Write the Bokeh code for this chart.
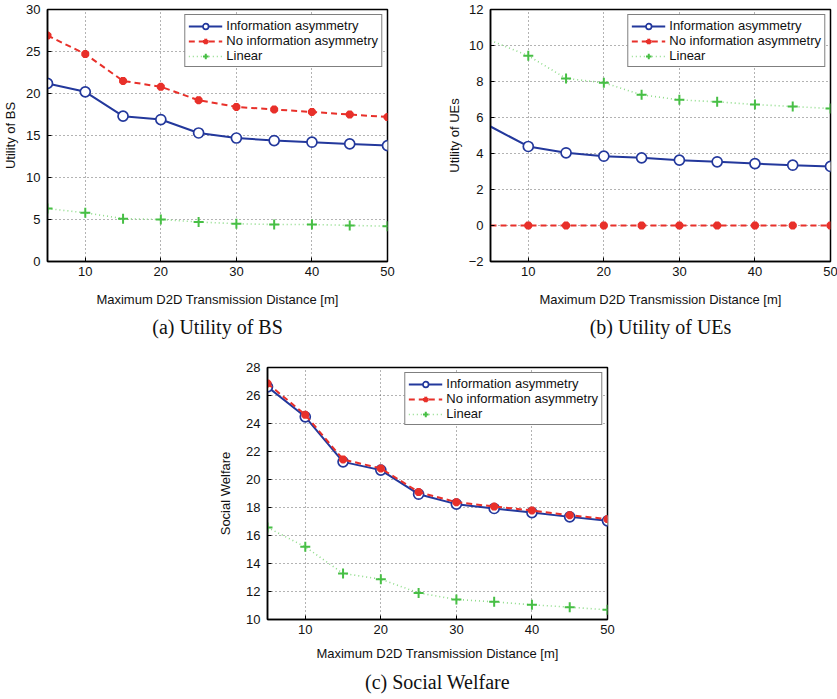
from bokeh.plotting import figure
from bokeh.models import Range1d, Legend, LegendItem, Title, FixedTicker
from bokeh.layouts import row, column
from bokeh.embed import file_html
from bokeh.resources import INLINE

# ---------------- data ----------------
distance = [5, 10, 15, 20, 25, 30, 35, 40, 45, 50]
ue_marker_distance = [10, 15, 20, 25, 30, 35, 40, 45, 50]
x_ticks = [10, 20, 30, 40, 50]

bs_info = [21.2, 20.2, 17.3, 16.9, 15.3, 14.7, 14.4, 14.2, 14.0, 13.8]
bs_noinfo = [26.9, 24.7, 21.5, 20.8, 19.2, 18.4, 18.1, 17.8, 17.5, 17.2]
bs_linear = [6.3, 5.8, 5.1, 5.0, 4.7, 4.5, 4.4, 4.4, 4.3, 4.2]

ue_info = [5.5, 4.39, 4.04, 3.85, 3.76, 3.63, 3.54, 3.44, 3.35, 3.28]
ue_noinfo = [0, 0, 0, 0, 0, 0, 0, 0, 0, 0]
ue_linear = [10.28, 9.43, 8.17, 7.93, 7.26, 6.98, 6.87, 6.72, 6.61, 6.5]

sw_info = [26.62, 24.48, 21.26, 20.67, 18.95, 18.24, 17.93, 17.64, 17.33, 17.05]
sw_noinfo = [26.86, 24.62, 21.43, 20.79, 19.10, 18.38, 18.07, 17.79, 17.45, 17.17]
sw_linear = [16.57, 15.19, 13.29, 12.88, 11.90, 11.43, 11.26, 11.05, 10.88, 10.69]

labels = ["Information asymmetry", "No information asymmetry", "Linear"]
x_label = "Maximum D2D Transmission Distance [m]"

BLUE = "#23389c"
RED = "#e8302a"
GREEN = "#47bf45"
GREEN_LINE = "#8fdc8a"
FONT = "Liberation Sans"


def make_panel(ys, mark_x, mark_start, yrange, yticks, ylabel, caption,
               borders, ylabel_standoff, xlabel_standoff, cap_standoff,
               overrides=None):
    left, right, top, bottom = borders
    p = figure(frame_width=340, frame_height=252, output_backend="svg",
               toolbar_location=None, x_range=Range1d(5, 50),
               y_range=Range1d(*yrange), min_border_left=left,
               min_border_right=right, min_border_top=top,
               min_border_bottom=bottom)
    p.background_fill_color = "white"
    p.border_fill_color = "white"
    p.outline_line_color = "black"
    p.outline_line_width = 1.5

    p.xaxis.ticker = FixedTicker(ticks=x_ticks)
    p.yaxis.ticker = FixedTicker(ticks=yticks)
    if overrides:
        p.yaxis.major_label_overrides = overrides
    for ax in (p.xaxis, p.yaxis):
        ax.axis_line_color = "black"
        ax.axis_line_width = 1.5
        ax.major_tick_in = 4
        ax.major_tick_out = 0
        ax.minor_tick_line_color = None
        ax.major_tick_line_color = "black"
        ax.major_label_text_font = FONT
        ax.major_label_text_font_size = "13px"
        ax.major_label_text_color = "#111111"
        ax.axis_label_text_font = FONT
        ax.axis_label_text_font_style = "normal"
        ax.axis_label_text_font_size = "13px"
        ax.axis_label_text_color = "#111111"
    p.xaxis.major_label_standoff = 5
    p.yaxis.major_label_standoff = 7
    p.xaxis.axis_label = x_label
    p.yaxis.axis_label = ylabel
    p.xaxis.axis_label_standoff = xlabel_standoff
    p.yaxis.axis_label_standoff = ylabel_standoff

    for g in (p.xgrid, p.ygrid):
        g.grid_line_color = "#555555"
        g.grid_line_dash = "1 3"
        g.grid_line_width = 0.9

    info, noinfo, linear = ys
    styles = [
        dict(color=BLUE, lw=2.0, dash="solid", marker="circle", size=10,
             mlw=1.7, fill="white"),
        dict(color=RED, lw=2.0, dash="6 4", marker="asterisk", size=8,
             mlw=3.0, fill=RED),
        dict(color=GREEN_LINE, lw=1.6, dash="1 3", marker="cross", size=10,
             mlw=2.0, fill=GREEN),
    ]
    items = []
    for lab, yv, st in zip(labels, (info, noinfo, linear), styles):
        ln = p.line(distance, yv, line_color=st["color"], line_width=st["lw"],
                    line_dash=st["dash"])
        mcolor = GREEN if st["marker"] == "cross" else st["color"]
        sc = p.scatter(mark_x, yv[mark_start:], marker=st["marker"],
                       size=st["size"], line_color=mcolor,
                       line_width=st["mlw"], fill_color=st["fill"])
        items.append(LegendItem(label=lab, renderers=[ln, sc]))

    legend = Legend(items=items, location="top_right")
    legend.margin = 5
    legend.padding = 3
    legend.spacing = 0
    legend.label_height = 14
    legend.glyph_height = 14
    legend.glyph_width = 34
    legend.label_standoff = 4
    legend.label_text_font = FONT
    legend.label_text_font_size = "13px"
    legend.label_text_line_height = 1.0
    legend.label_text_color = "#111111"
    legend.border_line_color = "black"
    legend.border_line_width = 1.3
    legend.background_fill_alpha = 1.0
    p.add_layout(legend, "center")

    cap = Title(text=caption, align="center", text_font="Liberation Serif",
                text_font_size="20px", text_font_style="normal",
                text_color="#111111", standoff=cap_standoff)
    p.add_layout(cap, "below")
    return p


pa = make_panel((bs_info, bs_noinfo, bs_linear), distance, 0, (0, 30),
                [0, 5, 10, 15, 20, 25, 30], "Utility of BS",
                "(a) Utility of BS", (46, 32, 9, 91), 5, 13, 8)
pb = make_panel((ue_info, ue_noinfo, ue_linear), ue_marker_distance, 1,
                (-2, 12), [-2, 0, 2, 4, 6, 8, 10, 12], "Utility of UEs",
                "(b) Utility of UEs", (71, 8, 9, 91), 4, 13, 8,
                overrides={-2: "\u22122"})
pc = make_panel((sw_info, sw_noinfo, sw_linear), distance, 0, (10, 28),
                [10, 12, 14, 16, 18, 20, 22, 24, 26, 28], "Social Welfare",
                "(c) Social Welfare", (267, 230, 15, 80), 10, 9, 10)

layout = column(row(pa, pb, spacing=0), pc, spacing=0)
open("out.html", "w").write(file_html(layout, INLINE))
